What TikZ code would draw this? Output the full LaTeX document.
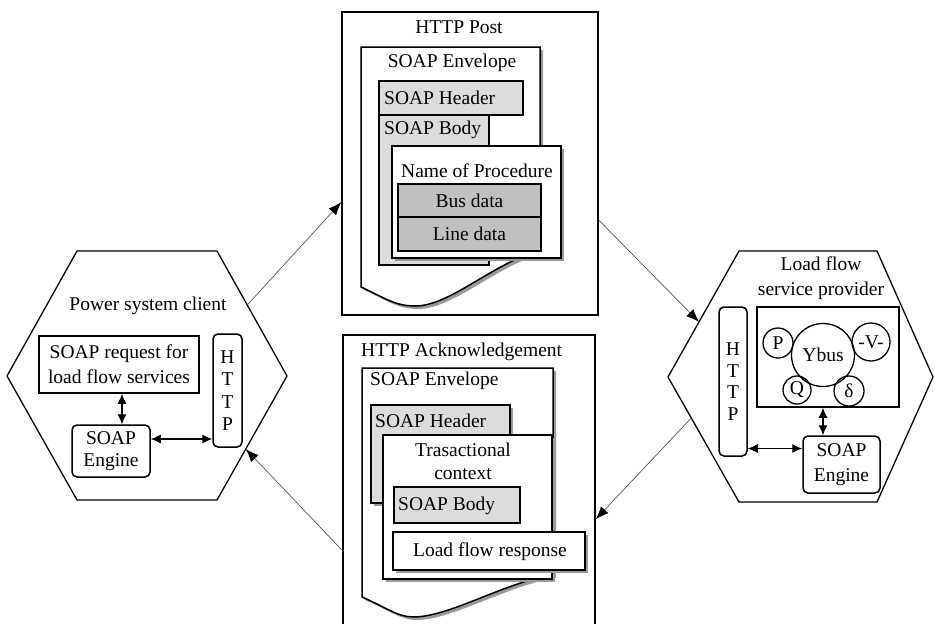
\documentclass[tikz,border=0pt]{standalone}
\usepackage{fontspec}
\setmainfont{Liberation Serif}
\usetikzlibrary{arrows.meta,fit,calc,shadows}
\definecolor{lgray}{HTML}{DCDCDC}
\definecolor{mgray}{HTML}{C0C0C0}
\definecolor{shgray}{HTML}{9A9A9A}
\definecolor{conngray}{HTML}{555555}
\begin{document}
\begin{tikzpicture}[x=1pt,y=-1pt,
  txt/.style={font=\fontsize{19.5}{24}\selectfont, inner sep=0pt, align=center},
  box/.style={draw, line width=1.5pt, inner sep=0pt},
  rbox/.style={box, rounded corners=5pt},
  circ/.style={draw, circle, line width=1.3pt, inner sep=0pt, font=\fontsize{19.5}{24}\selectfont},
  shd/.style={drop shadow={shadow xshift=3pt, shadow yshift=-3pt, fill=shgray, opacity=1}},
  hex/.style={draw, line width=1.3pt, line join=miter},
  dbl/.style={line width=1.2pt, {Latex[length=10pt,width=9pt]}-{Latex[length=10pt,width=9pt]}},
  conn/.style={draw=conngray, line width=0.7pt, -{Latex[length=13pt,width=10pt,color=black]}},
]
\useasboundingbox (0,0) rectangle (935,624);
\clip (0,0) rectangle (935,624);

% ---------- hexagons ----------
\coordinate (hL1) at (77,251);  \coordinate (hL2) at (217,251); \coordinate (hL3) at (287,376);
\coordinate (hL4) at (217,500); \coordinate (hL5) at (77,500);  \coordinate (hL6) at (7,376);
\draw[hex] (hL1) -- (hL2) -- (hL3) -- (hL4) -- (hL5) -- (hL6) -- cycle;

\coordinate (hR1) at (739,251); \coordinate (hR2) at (877,251); \coordinate (hR3) at (933,377);
\coordinate (hR4) at (877,502); \coordinate (hR5) at (739,502); \coordinate (hR6) at (668,377);
\draw[hex] (hR1) -- (hR2) -- (hR3) -- (hR4) -- (hR5) -- (hR6) -- cycle;

% ---------- HTTP Post ----------
\node[box, fit={(342,12) (598,315)}] (post) {};
\node[txt] (postT) at (459,27) {HTTP Post};
\draw[box, fill=white, shd] (361,47) -- (540,47) -- (540,250)
  .. controls (490,265) and (450,306) .. (415,306)
  .. controls (395,306) and (385,298) .. (361,287) -- cycle;
\node[txt] (env1T) at (452,63) {SOAP Envelope};
\node[box, fill=lgray, fit={(379,115) (489,265)}] (body1) {};
\node[box, fill=lgray, fit={(379,81) (523,115)}] (hdr1) {};
\node[txt, anchor=west] (hdr1T) at (384,98) {SOAP Header};
\node[txt, anchor=west] (body1T) at (384,130) {SOAP Body};
\node[box, fill=white, shd, fit={(392,146) (561,258)}] (proc) {};
\node[txt] (procT) at (477,171) {Name of Procedure};
\node[box, fill=mgray, fit={(398,184) (541,217)}] (bus) {};
\node[txt] (busT) at (bus.center) {Bus data};
\node[box, fill=mgray, fit={(398,217) (541,251)}] (ln) {};
\node[txt] (lnT) at (ln.center) {Line data};

% ---------- HTTP Acknowledgement ----------
\node[box, fit={(343,335) (595,630)}] (ack) {};
\node[txt, anchor=west] (ackT) at (361,352) {HTTP Acknowledgement};
\draw[box, fill=white, shd] (362,368) -- (553,368) -- (553,575)
  .. controls (505,582) and (450,617) .. (413,617)
  .. controls (398,617) and (385,607) .. (362,597) -- cycle;
\node[txt, anchor=west] (env2T) at (370,381) {SOAP Envelope};
\node[box, fill=lgray, shd, fit={(371,405) (510,503)}] (hdr2) {};
\node[txt, anchor=west] (hdr2T) at (375,421) {SOAP Header};
\node[box, fill=white, shd, fit={(383,435) (552,579)}] (trans) {};
\node[txt, font=\fontsize{19.5}{23}\selectfont] (transT) at (463,461) {Trasactional\\context};
\node[box, fill=lgray, fit={(394,487) (520,523)}] (body2) {};
\node[txt, anchor=west] (body2T) at (398,506) {SOAP Body};
\node[box, fill=white, shd, fit={(393,532) (585,570)}] (lfr) {};
\node[txt] (lfrT) at (490,552) {Load flow response};

% ---------- Power system client ----------
\node[txt] (pscT) at (148,306) {Power system client};
\node[box, fit={(39,336) (199,393)}] (req) {};
\node[txt, font=\fontsize{19.5}{25}\selectfont] (reqT) at (req.center) {SOAP request for\\load flow services};
\node[rbox, fit={(213,334) (242,447)}] (httpL) {};
\node[txt, font=\fontsize{19.5}{22.5}\selectfont] (httpLT) at (httpL.center) {H\\T\\T\\P};
\node[rbox, fit={(72,425) (150,477)}] (engL) {};
\node[txt, font=\fontsize{19.5}{22}\selectfont] (engLT) at (engL.center) {SOAP\\Engine};
\coordinate (a0) at ($(req.south)+(3,0)$);
\draw[dbl] (a0) -- (a0 |- engL.north);
\coordinate (a1) at ($(engL.east)+(0,-12)$);
\draw[dbl] (a1) -- (a1 -| httpL.west);

% ---------- Load flow service provider ----------
\node[txt, font=\fontsize{19.5}{25}\selectfont] (lfspT) at (821,278) {Load flow\\service provider};
\node[rbox, fit={(719,307) (747,456)}] (httpR) {};
\node[txt, font=\fontsize{19.5}{21.5}\selectfont] (httpRT) at (httpR.center) {H\\T\\T\\P};
\node[box, fit={(757,307) (899,407)}] (ybox) {};
\node[circ, minimum size=63pt] (ybus) at (823,355) {Ybus};
\node[circ, minimum size=30pt] (cP) at (778,343) {P};
\node[circ, minimum size=38pt] (cV) at (871,342) {-V-};
\node[circ, minimum size=28pt] (cQ) at (797,390) {Q};
\node[circ, minimum size=30pt] (cD) at (849,391) {δ};
\node[rbox, fit={(803,436) (880,493)}] (engR) {};
\node[txt, font=\fontsize{19.5}{25}\selectfont] (engRT) at (engR.center) {SOAP\\Engine};
\draw[dbl] (ybus |- ybox.south) -- (ybus |- engR.north);
\coordinate (a2) at ($(engR.west)+(0,-16)$);
\draw[dbl] (a2 -| httpR.east) -- (a2);

% ---------- connectors ----------
\coordinate (c1s) at ($(hL2)!0.432!(hL3)$);
\coordinate (c1e) at ($(post.north west)!0.627!(post.south west)$);
\draw[conn] (c1s) -- (c1e);
\coordinate (c2s) at ($(post.north east)!0.686!(post.south east)$);
\coordinate (c2e) at ($(hR1)!0.563!(hR6)$);
\draw[conn] (c2s) -- (c2e);
\coordinate (c3s) at ($(hR6)!0.328!(hR5)$);
\coordinate (c3e) at ($(ack.north east)!0.624!(ack.south east)$);
\draw[conn] (c3s) -- (c3e);
\coordinate (c4s) at ($(ack.north west)!0.729!(ack.south west)$);
\coordinate (c4e) at ($(hL3)!0.589!(hL4)$);
\draw[conn] (c4s) -- (c4e);
\end{tikzpicture}
\end{document}
